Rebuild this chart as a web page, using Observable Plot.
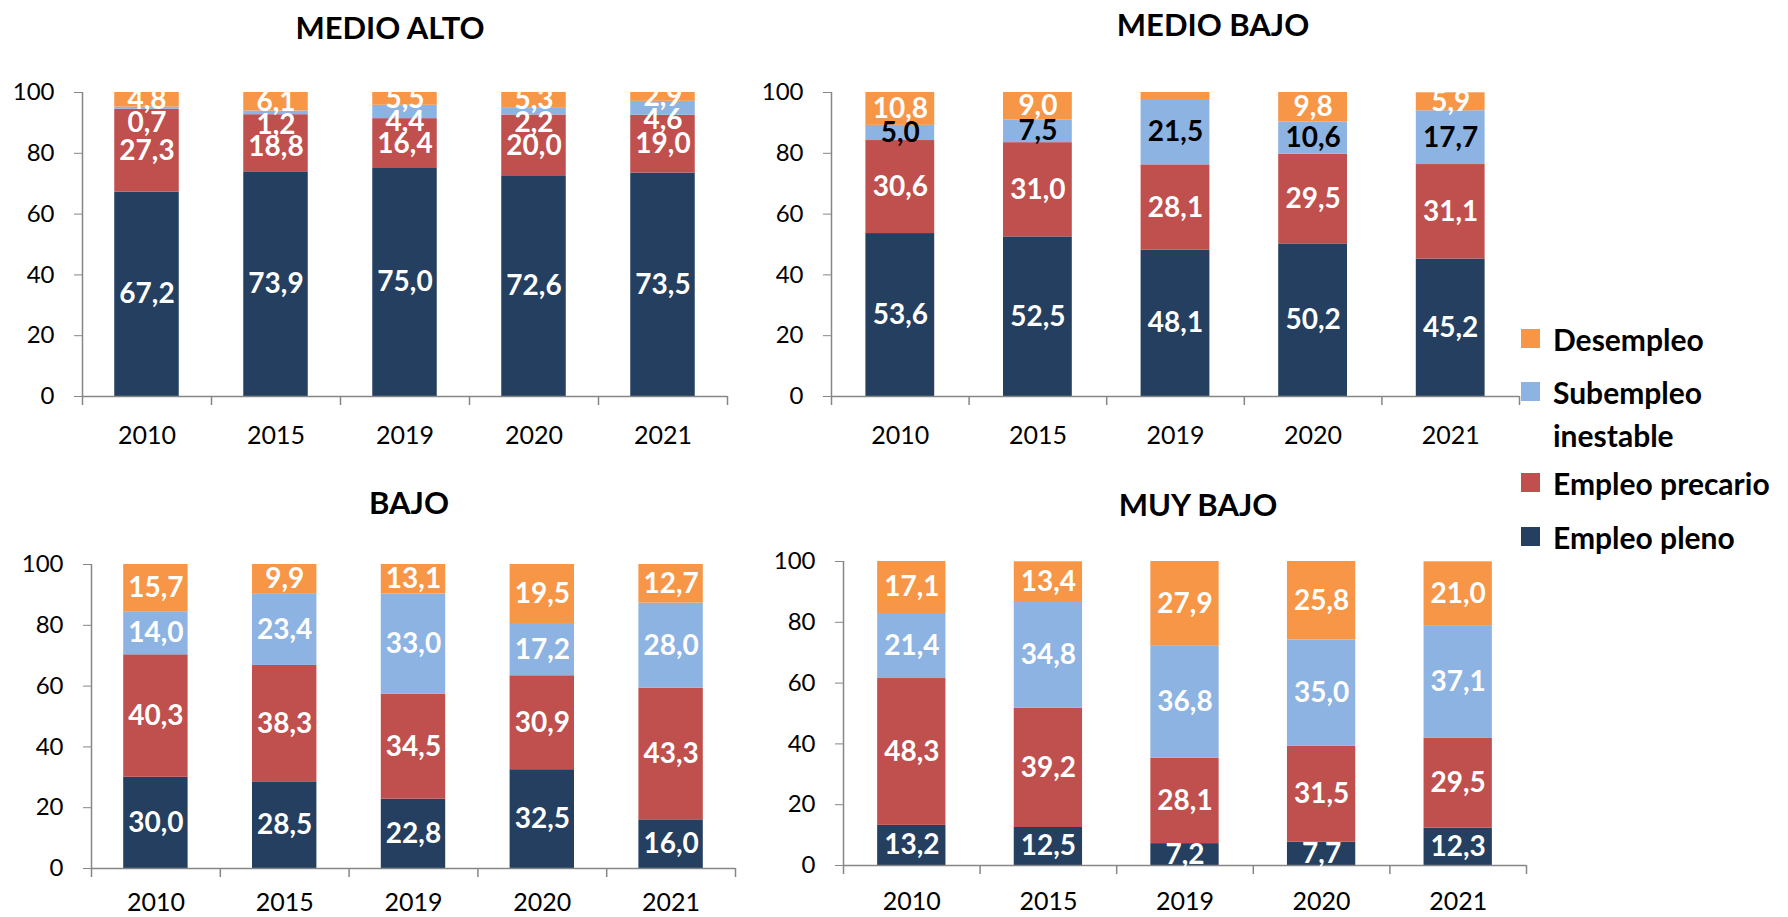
<!DOCTYPE html>
<html>
<head>
<meta charset="utf-8">
<script src="https://cdn.jsdelivr.net/npm/d3@7"></script>
<script src="https://cdn.jsdelivr.net/npm/@observablehq/plot@0.6"></script>
<style>
  html, body { margin: 0; padding: 0; background: #fff; }
  #root { position: relative; width: 1788px; height: 917px; overflow: hidden; font-family: Lato, "Open Sans", sans-serif; }
  .title { position: absolute; transform: translate(-50%, -50%); font-weight: 700; font-size: 31px; color: #000; white-space: nowrap; }
  .panel { position: absolute; }
  .panel svg { display: block; max-width: none !important; }
  g[aria-label="y-axis tick"] { stroke: #868686; }
  .tick line { stroke: #868686; }
  .legend-sw { position: absolute; width: 19px; height: 19px; }
  .legend-tx { position: absolute; transform: translateY(-50%); font-weight: 700; font-size: 30px; color: #000; white-space: nowrap; line-height: 1; }
</style>
</head>
<body>
<div id="root"></div>
<script>
// ---------- DATA ----------
const years = ["2010", "2015", "2019", "2020", "2021"];
const series = ["Empleo pleno", "Empleo precario", "Subempleo inestable", "Desempleo"]; // stack order bottom -> top
const legendOrder = ["Desempleo", "Subempleo inestable", "Empleo precario", "Empleo pleno"];
const panelNames = ["MEDIO ALTO", "MEDIO BAJO", "BAJO", "MUY BAJO"];
const yTicks = [0, 20, 40, 60, 80, 100];

const medioAltoPleno      = [67.2, 73.9, 75.0, 72.6, 73.5];
const medioAltoPrecario   = [27.3, 18.8, 16.4, 20.0, 19.0];
const medioAltoSubempleo  = [0.7, 1.2, 4.4, 2.2, 4.6];
const medioAltoDesempleo  = [4.8, 6.1, 5.5, 5.3, 2.9];

const medioBajoPleno      = [53.6, 52.5, 48.1, 50.2, 45.2];
const medioBajoPrecario   = [30.6, 31.0, 28.1, 29.5, 31.1];
const medioBajoSubempleo  = [5.0, 7.5, 21.5, 10.6, 17.7];
const medioBajoDesempleo  = [10.8, 9.0, 2.7, 9.8, 5.9]; // 2019 value not labelled in source (estimated)

const bajoPleno           = [30.0, 28.5, 22.8, 32.5, 16.0];
const bajoPrecario        = [40.3, 38.3, 34.5, 30.9, 43.3];
const bajoSubempleo       = [14.0, 23.4, 33.0, 17.2, 28.0];
const bajoDesempleo       = [15.7, 9.9, 13.1, 19.5, 12.7];

const muyBajoPleno        = [13.2, 12.5, 7.2, 7.7, 12.3];
const muyBajoPrecario     = [48.3, 39.2, 28.1, 31.5, 29.5];
const muyBajoSubempleo    = [21.4, 34.8, 36.8, 35.0, 37.1];
const muyBajoDesempleo    = [17.1, 13.4, 27.9, 25.8, 21.0];

const unlabeled = [{panel: "MEDIO BAJO", year: "2019", series: "Desempleo"}];
const darkLabelSeries = [{panel: "MEDIO BAJO", series: "Subempleo inestable"}];

// ---------- STYLE / LAYOUT ----------
const colors = {
  "Empleo pleno": "#243F60",
  "Empleo precario": "#C0504D",
  "Subempleo inestable": "#8DB3E2",
  "Desempleo": "#F79646"
};
const axisGray = "#868686";

const layouts = {
  "MEDIO ALTO": {left: 0,   ml: 82,  xEnd: 727,  y100: 92,  y0: 396, yearDy: 39, title: [390, 27]},
  "MEDIO BAJO": {left: 731, ml: 100, xEnd: 1519, y100: 92,  y0: 396, yearDy: 39, title: [1213, 24]},
  "BAJO":       {left: 0,   ml: 91,  xEnd: 735,  y100: 564, y0: 868, yearDy: 34, title: [409, 502]},
  "MUY BAJO":   {left: 743, ml: 100, xEnd: 1526, y100: 561, y0: 865, yearDy: 36, title: [1198, 504]}
};

const panelValues = {
  "MEDIO ALTO": [medioAltoPleno, medioAltoPrecario, medioAltoSubempleo, medioAltoDesempleo],
  "MEDIO BAJO": [medioBajoPleno, medioBajoPrecario, medioBajoSubempleo, medioBajoDesempleo],
  "BAJO":       [bajoPleno, bajoPrecario, bajoSubempleo, bajoDesempleo],
  "MUY BAJO":   [muyBajoPleno, muyBajoPrecario, muyBajoSubempleo, muyBajoDesempleo]
};

const fmt = v => v.toFixed(1).replace(".", ",");

const root = document.getElementById("root");

for (const panel of panelNames) {
  const L = layouts[panel];
  const vals = panelValues[panel];
  const rows = [];
  years.forEach((yr, i) => {
    let acc = 0;
    series.forEach((s, k) => {
      const v = vals[k][i];
      rows.push({panel, year: yr, i, series: s, value: v, y1: acc, y2: acc + v});
      acc += v;
    });
  });

  // label positions: centre of visible segment, nudged down when crowded
  const labels = [];
  years.forEach((yr, i) => {
    let prev = Infinity;
    for (const s of [...series].reverse()) {
      if (unlabeled.some(u => u.panel === panel && u.year === yr && u.series === s)) continue;
      const r = rows.find(d => d.year === yr && d.series === s);
      const c = (Math.min(r.y1, 100) + Math.min(r.y2, 100)) / 2;
      const ly = Math.min(c, prev - 7.5);
      prev = ly;
      const dark = darkLabelSeries.some(u => u.panel === panel && u.series === s);
      labels.push({...r, ly, label: fmt(r.value), color: dark ? "#000" : "#fff"});
    }
  });

  const mt = 20, mb = 48, mr = 20;
  const height = (L.y0 - L.y100) + mt + mb;
  const width = L.xEnd - L.left + mr;
  const idx = years.map((y, i) => ({year: y, i}));
  const boundaries = d3.range(years.length + 1);

  const svg = Plot.plot({
    width, height,
    marginLeft: L.ml, marginRight: mr, marginTop: mt, marginBottom: mb,
    style: {background: "transparent", overflow: "visible", fontFamily: "Lato, 'Open Sans', sans-serif", fontSize: "24px", color: "#000"},
    x: {domain: [0, years.length], axis: null},
    y: {domain: [0, 100], ticks: yTicks, tickSize: 8, tickPadding: 20, label: null, tickFormat: d => String(d)},
    marks: [
      Plot.rect(rows, {x1: d => d.i + 0.25, x2: d => d.i + 0.75, y1: "y1", y2: "y2", fill: d => colors[d.series], clip: true}),
      Plot.ruleY([0], {stroke: axisGray, strokeWidth: 1.5}),
      Plot.ruleX([0], {y1: 0, y2: 100, stroke: axisGray, strokeWidth: 1.5}),
      Plot.ruleX(boundaries, {x: d => d, y1: 0, y2: 0, insetBottom: -9, stroke: axisGray, strokeWidth: 1.5}),
      Plot.text(labels, {x: d => d.i + 0.5, y: "ly", text: "label", fill: "color", fontSize: 28, fontWeight: "bold"}),
      Plot.text(idx, {x: d => d.i + 0.5, y: d => 0, dy: L.yearDy, text: "year", fontSize: 25, fill: "#000"})
    ]
  });
  svg.setAttribute("width", width);
  svg.setAttribute("height", height);
  svg.style.width = width + "px";
  svg.style.height = height + "px";
  const wrap = document.createElement("div");
  wrap.className = "panel";
  wrap.style.left = L.left + "px";
  wrap.style.top = (L.y100 - mt) + "px";
  wrap.style.width = width + "px";
  wrap.style.height = height + "px";
  wrap.appendChild(svg);
  root.appendChild(wrap);

  const t = document.createElement("div");
  t.className = "title";
  t.textContent = panel;
  t.style.left = L.title[0] + "px";
  t.style.top = L.title[1] + "px";
  root.appendChild(t);
}

// legend
const legendPos = {
  "Desempleo": {sw: 329, text: [339]},
  "Subempleo inestable": {sw: 382, text: [392, 435], lines: ["Subempleo", "inestable"]},
  "Empleo precario": {sw: 473, text: [483]},
  "Empleo pleno": {sw: 527, text: [537]}
};
for (const s of legendOrder) {
  const p = legendPos[s];
  const sw = document.createElement("div");
  sw.className = "legend-sw";
  sw.style.left = "1521px";
  sw.style.top = p.sw + "px";
  sw.style.background = colors[s];
  root.appendChild(sw);
  const lines = p.lines || [s];
  lines.forEach((ln, j) => {
    const tx = document.createElement("div");
    tx.className = "legend-tx";
    tx.style.left = "1553px";
    tx.style.top = p.text[j] + "px";
    tx.textContent = ln;
    root.appendChild(tx);
  });
}
</script>
</body>
</html>
